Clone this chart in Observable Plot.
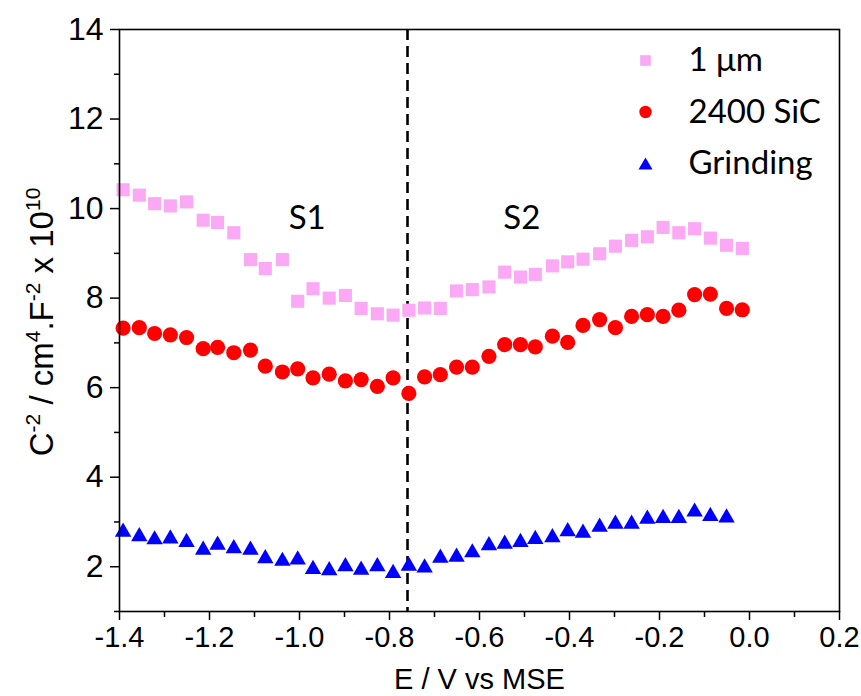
<!DOCTYPE html>
<html>
<head>
<meta charset="utf-8">
<script src="https://cdn.jsdelivr.net/npm/d3@7"></script>
<script src="https://cdn.jsdelivr.net/npm/@observablehq/plot@0.6"></script>
<style>
  html, body { margin: 0; padding: 0; background: #fff; }
  #chart svg { display: block; }
</style>
</head>
<body>
<div id="chart"></div>
<script>
// ---- data ----
const potential = [-1.392, -1.356, -1.322, -1.287, -1.251, -1.214, -1.182, -1.146, -1.109, -1.076,
  -1.038, -1.004, -0.970, -0.934, -0.898, -0.863, -0.827, -0.792, -0.757, -0.722,
  -0.687, -0.651, -0.616, -0.579, -0.544, -0.509, -0.476, -0.438, -0.404, -0.370,
  -0.333, -0.298, -0.262, -0.227, -0.192, -0.157, -0.122, -0.087, -0.051, -0.016];
const um1 = [10.42, 10.30, 10.11, 10.06, 10.15, 9.74, 9.69, 9.46, 8.86, 8.66,
  8.86, 7.93, 8.21, 8.00, 8.06, 7.77, 7.65, 7.62, 7.73, 7.78,
  7.77, 8.16, 8.19, 8.25, 8.58, 8.47, 8.53, 8.72, 8.81, 8.87,
  8.99, 9.16, 9.29, 9.37, 9.58, 9.46, 9.55, 9.34, 9.18, 9.11];
const sic2400 = [7.33, 7.34, 7.21, 7.18, 7.12, 6.87, 6.90, 6.78, 6.84, 6.48,
  6.35, 6.42, 6.22, 6.30, 6.15, 6.18, 6.03, 6.22, 5.87, 6.24,
  6.29, 6.46, 6.46, 6.70, 6.96, 6.96, 6.91, 7.15, 7.01, 7.39,
  7.52, 7.34, 7.59, 7.63, 7.59, 7.73, 8.08, 8.09, 7.77, 7.74];
const grinding = [2.82, 2.72, 2.65, 2.67, 2.59, 2.42, 2.53, 2.45, 2.42, 2.23,
  2.17, 2.20, 1.99, 1.96, 2.05, 1.97, 2.05, 1.90, 2.06, 2.02,
  2.24, 2.26, 2.36, 2.52, 2.55, 2.59, 2.66, 2.70, 2.83, 2.80,
  2.93, 3.00, 3.00, 3.11, 3.13, 3.13, 3.27, 3.17, 3.14];
const seriesNames = ["1 \u03bcm", "2400 SiC", "Grinding"];
const xTicks = [-1.4, -1.2, -1.0, -0.8, -0.6, -0.4, -0.2, 0.0, 0.2];
const xMinor = [-1.3, -1.1, -0.9, -0.7, -0.5, -0.3, -0.1, 0.1];
const yTicks = [2, 4, 6, 8, 10, 12, 14];
const yMinor = [1, 3, 5, 7, 9, 11, 13];
const dividerE = [-0.76];
const regionNames = ["S1", "S2"];
const regionX = [-0.983, -0.506];
const regionY = [9.78, 9.78];
const xTitle = "E / V vs MSE";

// ---- styles ----
const colPink = "#FBA9F4", colRed = "#FF0000", colBlue = "#0000FF";
const sansAx = "'Liberation Sans', Arial, sans-serif";
const sansLg = "Lato, 'Open Sans', sans-serif";

const rowsPink = potential.map((e, i) => ({E: e, C: um1[i]}));
const rowsRed = potential.map((e, i) => ({E: e, C: sic2400[i]}));
const rowsBlue = grinding.map((c, i) => ({E: potential[i], C: c}));

const legendSymbols = ["square", "circle", "triangle"];
const legendColors = [colPink, colRed, colBlue];
const legendR = [6.0, 6.2, 5.2];
const legendMarks = [];
seriesNames.forEach((name, i) => {
  legendMarks.push(Plot.dot([name], {frameAnchor: "top-right", dx: -194, dy: 31 + i * 51.5 + (i === 2 ? 2 : 0),
    symbol: legendSymbols[i], r: legendR[i], fill: legendColors[i], stroke: "none"}));
  legendMarks.push(Plot.text([name], {frameAnchor: "top-right", dx: -151, dy: 31 + i * 51.5, text: d => d,
    textAnchor: "start", lineAnchor: "middle", fontSize: 33, fontFamily: sansLg, fill: "#000"}));
});

const chart = Plot.plot({
  width: 861,
  height: 696,
  marginLeft: 119,
  marginRight: 22,
  marginTop: 29,
  marginBottom: 85,
  style: {fontFamily: sansAx, background: "#fff", color: "#000", overflow: "visible"},
  x: {domain: [-1.4, 0.2]},
  y: {domain: [1, 14]},
  marks: [
    Plot.ruleX(dividerE, {stroke: "#000", strokeWidth: 2.6, strokeDasharray: "11,6"}),
    Plot.dot(rowsPink, {x: "E", y: "C", symbol: "square", r: 7.4, fill: colPink, stroke: "none"}),
    Plot.dot(rowsRed, {x: "E", y: "C", symbol: "circle", r: 7.6, fill: colRed, stroke: "none"}),
    Plot.dot(rowsBlue, {x: "E", y: "C", symbol: "triangle", r: 6.1, dy: 2, fill: colBlue, stroke: "none"}),
    Plot.text(regionNames, {x: (d, i) => regionX[i], y: (d, i) => regionY[i], text: d => d,
      fontSize: 33, fontFamily: sansLg, lineAnchor: "middle", fill: "#000"}),
    ...legendMarks,
    Plot.frame({stroke: "#000", strokeWidth: 1.6}),
    Plot.axisY(yMinor, {tickSize: 5, tickFormat: () => "", label: null, strokeWidth: 1.5}),
    Plot.axisY(yTicks, {tickSize: 9, tickPadding: 7, tickFormat: d => String(d), label: null,
      fontSize: 32, strokeWidth: 1.5}),
    Plot.axisX(xMinor, {tickSize: 6, tickFormat: () => "", label: null, strokeWidth: 1.5}),
    Plot.axisX(xTicks, {tickSize: 9, tickPadding: 6, tickFormat: d => d.toFixed(1), label: null,
      fontSize: 29, strokeWidth: 1.5}),
    Plot.text([xTitle], {frameAnchor: "bottom", dy: 68, text: d => d, lineAnchor: "middle",
      fontSize: 29, fontFamily: sansAx, fill: "#000"})
  ]
});

// y-axis title with superscripts
const yTitleParts = [["C", false], ["-2", true], [" / cm", false], ["4", true], [".F", false], ["-2", true], [" x 10", false], ["10", true]];
const svg = d3.select(chart);
const yt = svg.append("text")
  .attr("transform", "translate(53,322) rotate(-90)")
  .attr("text-anchor", "middle")
  .attr("fill", "#000")
  .style("font-family", sansAx)
  .style("font-size", "33px");
let raised = false;
yTitleParts.forEach(([s, sup]) => {
  const ts = yt.append("tspan").text(s);
  if (sup && !raised) { ts.attr("dy", -13).style("font-size", "21px"); raised = true; }
  else if (sup) { ts.style("font-size", "21px"); }
  else if (!sup && raised) { ts.attr("dy", 13); raised = false; }
});

document.getElementById("chart").appendChild(chart);
</script>
</body>
</html>
